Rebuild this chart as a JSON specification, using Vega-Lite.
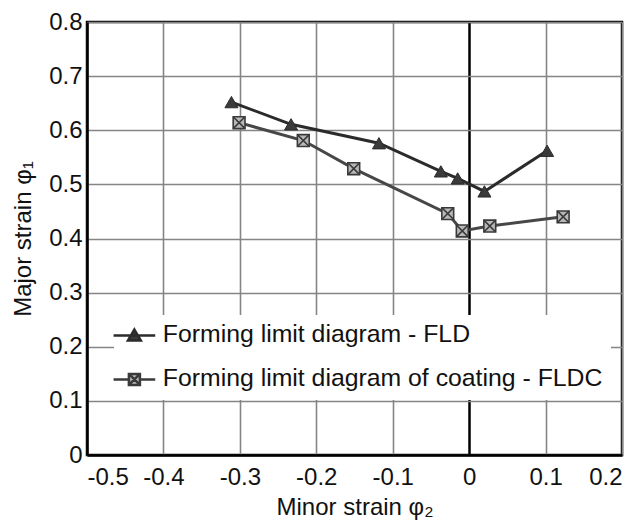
{
  "$schema": "https://vega.github.io/schema/vega-lite/v6.json",
  "autosize": "none",
  "width": 535,
  "height": 433,
  "padding": {"left": 87, "top": 22, "right": 12, "bottom": 69},
  "background": "white",
  "config": {
    "font": "Liberation Sans",
    "view": {"stroke": "black", "strokeWidth": 2.5},
    "axis": {
      "labelFont": "Liberation Sans",
      "titleFont": "Liberation Sans",
      "labelFontSize": 24,
      "titleFontSize": 24,
      "titleFontWeight": "normal",
      "labelColor": "#111",
      "titleColor": "#111",
      "ticks": false,
      "domainColor": "black",
      "domainWidth": 2.5,
      "gridWidth": 1.6
    },
    "legend": {
      "labelFont": "Liberation Sans",
      "labelFontSize": 24.8,
      "labelColor": "#111",
      "labelLimit": 600
    }
  },
  "datasets": {
    "pts": [
      {"series": "Forming limit diagram - FLD", "x": -0.311, "y": 0.652},
      {"series": "Forming limit diagram - FLD", "x": -0.233, "y": 0.611},
      {"series": "Forming limit diagram - FLD", "x": -0.118, "y": 0.576},
      {"series": "Forming limit diagram - FLD", "x": -0.037, "y": 0.524},
      {"series": "Forming limit diagram - FLD", "x": -0.015, "y": 0.511},
      {"series": "Forming limit diagram - FLD", "x": 0.02, "y": 0.487},
      {"series": "Forming limit diagram - FLD", "x": 0.102, "y": 0.562},
      {"series": "Forming limit diagram of coating - FLDC", "x": -0.301, "y": 0.614},
      {"series": "Forming limit diagram of coating - FLDC", "x": -0.217, "y": 0.581},
      {"series": "Forming limit diagram of coating - FLDC", "x": -0.151, "y": 0.529},
      {"series": "Forming limit diagram of coating - FLDC", "x": -0.028, "y": 0.446},
      {"series": "Forming limit diagram of coating - FLDC", "x": -0.009, "y": 0.414},
      {"series": "Forming limit diagram of coating - FLDC", "x": 0.027, "y": 0.423},
      {"series": "Forming limit diagram of coating - FLDC", "x": 0.123, "y": 0.44}
    ]
  },
  "data": {"name": "pts"},
  "encoding": {
    "x": {
      "field": "x", "type": "quantitative",
      "scale": {"domain": [-0.5, 0.2], "nice": false, "zero": false},
      "axis": {
        "values": [-0.5, -0.4, -0.3, -0.2, -0.1, 0, 0.1, 0.2],
        "labelExpr": "toString(datum.value)",
        "labelPadding": 10,
        "titlePadding": 6,
        "title": "Minor strain φ₂",
        "gridColor": {"condition": {"test": "datum.value === 0", "value": "black"}, "value": "#858585"},
        "gridWidth": {"condition": {"test": "datum.value === 0", "value": 2.5}, "value": 1.6}
      }
    },
    "y": {
      "field": "y", "type": "quantitative",
      "scale": {"domain": [0, 0.8], "nice": false},
      "axis": {
        "values": [0, 0.1, 0.2, 0.3, 0.4, 0.5, 0.6, 0.7, 0.8],
        "labelExpr": "toString(datum.value)",
        "labelPadding": 5,
        "titlePadding": 13,
        "title": "Major strain φ₁",
        "gridColor": "#858585"
      }
    }
  },
  "layer": [
    {
      "transform": [{"filter": "datum.series === 'Forming limit diagram - FLD'"}],
      "mark": {"type": "line", "strokeWidth": 3, "stroke": "#2b2b2b"}
    },
    {
      "transform": [{"filter": "datum.series === 'Forming limit diagram of coating - FLDC'"}],
      "mark": {"type": "line", "strokeWidth": 3, "stroke": "#474747"}
    },
    {
      "transform": [{"filter": "datum.series === 'Forming limit diagram - FLD'"}],
      "mark": {"type": "point", "shape": "triangle-up", "filled": true, "size": 170, "fill": "#3a3a3a", "stroke": "#2b2b2b", "strokeWidth": 1, "opacity": 1}
    },
    {
      "transform": [{"filter": "datum.series === 'Forming limit diagram of coating - FLDC'"}],
      "mark": {"type": "point", "shape": "square", "filled": true, "size": 140, "fill": "#b8b8b8", "stroke": "#3a3a3a", "strokeWidth": 1.6, "opacity": 1}
    },
    {
      "transform": [{"filter": "datum.series === 'Forming limit diagram of coating - FLDC'"}],
      "mark": {"type": "point", "shape": "M-1,-1L1,1M-1,1L1,-1", "filled": false, "size": 140, "stroke": "#3a3a3a", "strokeWidth": 1.6, "opacity": 1}
    },
    {
      "mark": {"type": "point", "filled": true, "size": 0, "strokeWidth": 2.5, "opacity": 1},
      "encoding": {
        "shape": {
          "field": "series", "type": "nominal",
          "scale": {
            "domain": ["Forming limit diagram - FLD", "Forming limit diagram of coating - FLDC"],
            "range": [
              "M-3.4,0H3.4M0,-0.95L1.05,0.85L-1.05,0.85Z",
              "M-3.4,0H-0.9M0.9,0H3.4M-0.9,-0.9H0.9V0.9H-0.9ZM-0.9,-0.9L0.9,0.9M-0.9,0.9L0.9,-0.9"
            ]
          },
          "legend": {
            "title": null,
            "orient": "none",
            "legendX": 27,
            "legendY": 293,
            "padding": 8,
            "fillColor": "white",
            "labelOffset": 16,
            "rowPadding": 18,
            "symbolSize": 150,
            "symbolStrokeWidth": 2.5
          }
        },
        "fill": {
          "field": "series", "type": "nominal",
          "scale": {"domain": ["Forming limit diagram - FLD", "Forming limit diagram of coating - FLDC"], "range": ["#3a3a3a", "#b8b8b8"]},
          "legend": {
            "title": null,
            "orient": "none",
            "legendX": 27,
            "legendY": 293,
            "padding": 8,
            "fillColor": "white",
            "labelOffset": 16,
            "rowPadding": 18,
            "symbolSize": 150,
            "symbolStrokeWidth": 2.5
          }
        },
        "stroke": {
          "field": "series", "type": "nominal",
          "scale": {"domain": ["Forming limit diagram - FLD", "Forming limit diagram of coating - FLDC"], "range": ["#2b2b2b", "#3a3a3a"]},
          "legend": {
            "title": null,
            "orient": "none",
            "legendX": 27,
            "legendY": 293,
            "padding": 8,
            "fillColor": "white",
            "labelOffset": 16,
            "rowPadding": 18,
            "symbolSize": 150,
            "symbolStrokeWidth": 2.5
          }
        }
      }
    }
  ]
}
